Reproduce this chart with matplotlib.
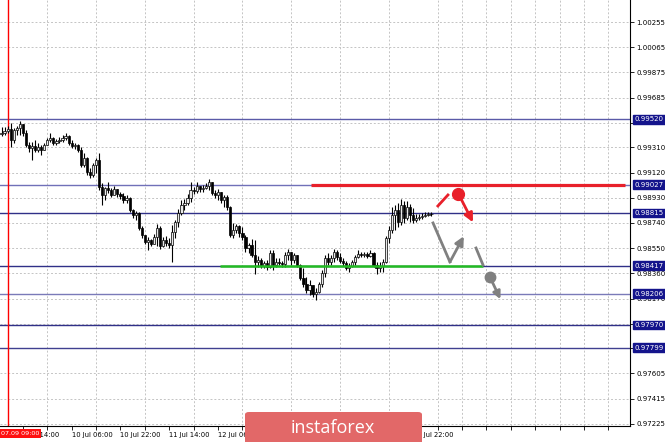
import matplotlib.pyplot as plt
import matplotlib.transforms as mtransforms
from matplotlib.patches import FancyBboxPatch
import numpy as np

# H1 candles, index 0 = 9 Jul 07:00
closes = [0.99418, 0.99433, 0.99448, 0.99365, 0.99441, 0.99456, 0.99486, 0.99418, 0.99328, 0.99305,
          0.99320, 0.99290, 0.99313, 0.99290, 0.99328, 0.99365, 0.99381, 0.99343, 0.99358, 0.99365,
          0.99381, 0.99396, 0.99343, 0.99320, 0.99328, 0.99290, 0.99177, 0.99230, 0.99124, 0.99102,
          0.99177, 0.99215, 0.99011, 0.98951, 0.99004, 0.98988, 0.98951, 0.98996, 0.98958, 0.98943,
          0.98913, 0.98928, 0.98838, 0.98800, 0.98815, 0.98702, 0.98649, 0.98596, 0.98611, 0.98581,
          0.98634, 0.98702, 0.98566, 0.98611, 0.98589, 0.98574, 0.98672, 0.98747, 0.98815, 0.98875,
          0.98890, 0.98928, 0.98988, 0.98981, 0.99019, 0.98996, 0.99004, 0.99019, 0.99049, 0.98966,
          0.98951, 0.98973, 0.98913, 0.98936, 0.98860, 0.98649, 0.98687, 0.98717, 0.98664, 0.98634,
          0.98551, 0.98574, 0.98498, 0.98446, 0.98461, 0.98415, 0.98438, 0.98408, 0.98513, 0.98423,
          0.98446, 0.98438, 0.98431, 0.98498, 0.98521, 0.98461, 0.98498, 0.98423, 0.98325, 0.98280,
          0.98234, 0.98272, 0.98204, 0.98219, 0.98280, 0.98363, 0.98476, 0.98446, 0.98476, 0.98521,
          0.98483, 0.98453, 0.98438, 0.98400, 0.98415, 0.98446, 0.98483, 0.98506, 0.98498, 0.98506,
          0.98491, 0.98513, 0.98423, 0.98400, 0.98415, 0.98446, 0.98627, 0.98687, 0.98800, 0.98838,
          0.98747, 0.98875, 0.98777, 0.98860, 0.98800, 0.98762, 0.98777, 0.98785, 0.98792, 0.98800,
          0.98807, 0.98807]
highs = [0.99463, 0.99463, 0.99471, 0.99494, 0.99456, 0.99471, 0.99509, 0.99463, 0.99441, 0.99350,
         0.99350, 0.99365, 0.99343, 0.99328, 0.99343, 0.99381, 0.99418, 0.99388, 0.99373, 0.99388,
         0.99403, 0.99418, 0.99403, 0.99365, 0.99343, 0.99335, 0.99313, 0.99267, 0.99237, 0.99154,
         0.99192, 0.99230, 0.99267, 0.99041, 0.99011, 0.99049, 0.99004, 0.99019, 0.98996, 0.98973,
         0.98966, 0.98951, 0.98936, 0.98845, 0.98830, 0.98823, 0.98717, 0.98642, 0.98634, 0.98619,
         0.98657, 0.98732, 0.98717, 0.98634, 0.98642, 0.98627, 0.98724, 0.98762, 0.98845, 0.98913,
         0.98921, 0.98958, 0.99049, 0.99011, 0.99049, 0.99019, 0.99026, 0.99041, 0.99071, 0.99049,
         0.98988, 0.98996, 0.98973, 0.98951, 0.98951, 0.98868, 0.98740, 0.98732, 0.98724, 0.98709,
         0.98649, 0.98589, 0.98619, 0.98611, 0.98491, 0.98476, 0.98453, 0.98461, 0.98536, 0.98536,
         0.98476, 0.98476, 0.98453, 0.98521, 0.98544, 0.98521, 0.98513, 0.98498, 0.98431, 0.98400,
         0.98332, 0.98310, 0.98272, 0.98250, 0.98295, 0.98385, 0.98498, 0.98513, 0.98498, 0.98544,
         0.98536, 0.98513, 0.98476, 0.98453, 0.98438, 0.98461, 0.98498, 0.98536, 0.98521, 0.98521,
         0.98521, 0.98536, 0.98521, 0.98446, 0.98446, 0.98468, 0.98642, 0.98717, 0.98860, 0.98875,
         0.98890, 0.98921, 0.98905, 0.98905, 0.98883, 0.98853, 0.98807, 0.98807, 0.98815, 0.98823,
         0.98823, 0.98823]
lows = [0.99396, 0.99403, 0.99418, 0.99313, 0.99343, 0.99403, 0.99403, 0.99396, 0.99313, 0.99275,
        0.99215, 0.99275, 0.99275, 0.99252, 0.99290, 0.99328, 0.99350, 0.99328, 0.99328, 0.99343,
        0.99350, 0.99365, 0.99328, 0.99305, 0.99298, 0.99275, 0.99162, 0.99162, 0.99102, 0.99079,
        0.99086, 0.99117, 0.98988, 0.98875, 0.98913, 0.98966, 0.98936, 0.98966, 0.98936, 0.98921,
        0.98890, 0.98890, 0.98823, 0.98777, 0.98762, 0.98687, 0.98627, 0.98581, 0.98536, 0.98566,
        0.98581, 0.98566, 0.98544, 0.98559, 0.98566, 0.98551, 0.98446, 0.98627, 0.98709, 0.98800,
        0.98838, 0.98875, 0.98898, 0.98958, 0.98966, 0.98973, 0.98973, 0.98996, 0.98988, 0.98951,
        0.98928, 0.98913, 0.98890, 0.98860, 0.98838, 0.98634, 0.98627, 0.98664, 0.98634, 0.98611,
        0.98521, 0.98513, 0.98483, 0.98355, 0.98408, 0.98400, 0.98400, 0.98385, 0.98400, 0.98385,
        0.98408, 0.98423, 0.98408, 0.98408, 0.98461, 0.98423, 0.98438, 0.98408, 0.98310, 0.98257,
        0.98212, 0.98197, 0.98182, 0.98159, 0.98212, 0.98257, 0.98332, 0.98423, 0.98423, 0.98446,
        0.98461, 0.98438, 0.98415, 0.98385, 0.98370, 0.98408, 0.98423, 0.98476, 0.98483, 0.98483,
        0.98476, 0.98483, 0.98408, 0.98355, 0.98370, 0.98370, 0.98438, 0.98589, 0.98664, 0.98687,
        0.98709, 0.98724, 0.98740, 0.98762, 0.98747, 0.98740, 0.98747, 0.98762, 0.98770, 0.98785,
        0.98792, 0.98792]
first_open = 0.99411

price_ticks = [1.00255, 1.00065, 0.99875, 0.99685, 0.99495, 0.99310, 0.99120, 0.98930, 0.98740,
               0.98550, 0.98360, 0.98170, 0.97980, 0.97795, 0.97605, 0.97415, 0.97225]
hidden_ticks = [0.97980, 0.97795]  # fully covered by the level boxes
levels = [0.99520, 0.99027, 0.98815, 0.98417, 0.98206, 0.97970, 0.97799]
level_colors = ['#5a5aa8', '#7070b8', '#303088', '#303088', '#7a7ab8', '#303088', '#404090']

time_pos = [7, 23, 39, 55, 71, 87, 103, 119, 135]
time_labels = ['9 Jul 14:00', '10 Jul 06:00', '10 Jul 22:00', '11 Jul 14:00', '12 Jul 06:00',
               '12 Jul 22:00', '15 Jul 14:00', '16 Jul 06:00', '16 Jul 22:00']
cursor_pos = 2

# forecast sketch (candle index, price)
resist = (101.5, 204.4, 0.99027)
support = (71.6, 157.9, 0.98417)
red_seg_x, red_seg_y = [143.1, 146.4], [0.98868, 0.98951]
red_dot = (149.7, 0.98958)
red_arrow = [(150.7, 0.98921), (154.6, 0.98745)]
grey_x, grey_y = [141.5, 147.05, 151.6], [0.98740, 0.98446, 0.98640]
grey_seg_x, grey_seg_y = [155.6, 157.9], [0.98551, 0.98423]
grey_dot = (160.2, 0.98332)
grey_arrow = [(160.8, 0.98302), (163.6, 0.98165)]

fig = plt.figure(figsize=(6.65, 4.42), dpi=100)
ax = fig.add_axes([0, 16 / 442, 630 / 665, 426 / 442])

closes = np.array(closes)
opens = np.r_[first_open, closes[:-1]]
idx = np.arange(len(closes))
top = np.maximum(opens, closes)
bot = np.minimum(opens, closes)
highs = np.maximum(highs, top)
lows = np.minimum(lows, bot)

ax.set_xlim(-0.5, 206.1)
ax.set_ylim(0.97209, 1.00421)

# grid
ax.set_xticks(np.arange(7, 207, 8), minor=True)
ax.set_xticks(time_pos)
ax.set_xticklabels(time_labels, fontsize=4.9, ha='left')
ax.set_yticks(price_ticks)
ax.set_yticklabels(['' if v in hidden_ticks else '%.5f' % v for v in price_ticks], fontsize=5)
ax.yaxis.tick_right()
ax.tick_params(axis='y', length=3, width=0.6, pad=1.5)
ax.tick_params(axis='x', which='both', length=3, width=0.6, pad=1.5)
ax.grid(True, axis='y', color='#c4c4c4', ls=(0, (2, 2)), lw=0.7)
ax.grid(True, axis='x', which='minor', color='#c4c4c4', ls=(0, (2, 2)), lw=0.7)
for s in ['top', 'left']:
    ax.spines[s].set_visible(False)
for s in ['right', 'bottom']:
    ax.spines[s].set_linewidth(0.8)

# levels
for lv, c in zip(levels, level_colors):
    ax.axhline(lv, color=c, lw=1, zorder=2)
ax.axvline(cursor_pos, color='red', lw=1, zorder=2)

# candles
ax.vlines(idx, lows, highs, color='black', lw=0.8, zorder=3)
bull = closes >= opens
ax.bar(idx, np.maximum(top - bot, 0.00002), bottom=bot, width=0.72,
       color=np.where(bull, '#e8e8e8', 'black'), edgecolor='black', lw=0.5, zorder=4)

# forecast marks
ax.plot([resist[0], resist[1]], [resist[2], resist[2]], color='#e8202a', lw=2.3, zorder=5, solid_capstyle='butt')
ax.plot([support[0], support[1]], [support[2], support[2]], color='#22bb22', lw=1.8, zorder=5, solid_capstyle='butt')
ax.plot(red_seg_x, red_seg_y, color='#e8202a', lw=2, zorder=6)
ax.plot(*red_dot, 'o', color='#e8202a', ms=8.5, zorder=6)
ax.annotate('', xy=red_arrow[1], xytext=red_arrow[0], zorder=6,
            arrowprops=dict(arrowstyle='-|>', color='#e8202a', lw=2, mutation_scale=13, shrinkA=0, shrinkB=0))
ax.plot(grey_x[:2], grey_y[:2], color='#808080', lw=2, zorder=6)
ax.annotate('', xy=(grey_x[2], grey_y[2]), xytext=(grey_x[1], grey_y[1]), zorder=6,
            arrowprops=dict(arrowstyle='-|>', color='#808080', lw=2, mutation_scale=13, shrinkA=0, shrinkB=0))
ax.plot(grey_seg_x, grey_seg_y, color='#808080', lw=2, zorder=6)
ax.plot(*grey_dot, 'o', color='#808080', ms=7.5, zorder=6)
ax.annotate('', xy=grey_arrow[1], xytext=grey_arrow[0], zorder=6,
            arrowprops=dict(arrowstyle='-|>', color='#808080', lw=2, mutation_scale=11, shrinkA=0, shrinkB=0))

# price boxes on the right scale
trans = mtransforms.blended_transform_factory(ax.transAxes, ax.transData)
for lv in levels:
    ax.text(1.007, lv, '%.5f' % lv, transform=trans, fontsize=5, color='white', ha='left', va='center',
            clip_on=False, zorder=10,
            bbox=dict(boxstyle='square,pad=0.2', fc='#14148c', ec='#14148c'))

# cursor time box
fig.text(1 / 665, (442 - 433.5) / 442, '07.09 09:00', fontsize=4.6, color='white', ha='left', va='center',
         bbox=dict(boxstyle='square,pad=0.3', fc='#ff1010', ec='none'))

# watermark banner
fig.patches.append(FancyBboxPatch((245 / 665, -20 / 442), 177 / 665, 50 / 442, transform=fig.transFigure,
                                  boxstyle='round,pad=0,rounding_size=0.006', fc='#e26868', ec='none', zorder=20))
fig.text(333 / 665, (442 - 428) / 442, 'instaforex', fontsize=13, color='white', ha='center', va='center',
         family='Open Sans', zorder=21)

fig.savefig('out.png', dpi=100)
